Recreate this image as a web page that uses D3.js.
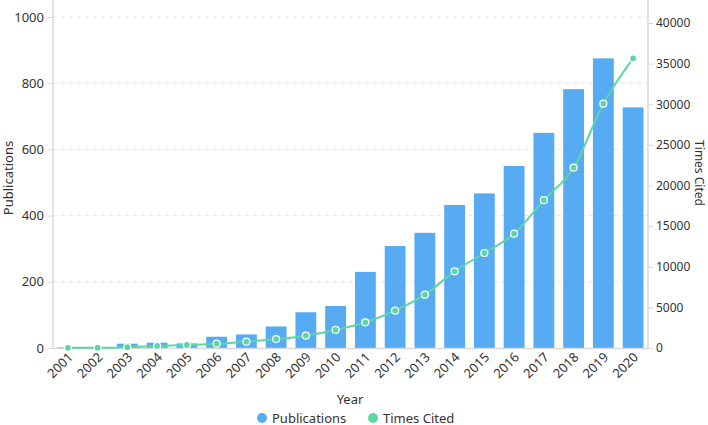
<!DOCTYPE html>
<html>
<head>
<meta charset="utf-8">
<script src="https://cdn.jsdelivr.net/npm/d3@7"></script>
<style>
  body { margin: 0; background: #fff; }
  svg text { font-family: "Noto Sans", "Open Sans", sans-serif; fill: #333; }
</style>
</head>
<body>
<svg id="chart" width="708" height="425"></svg>
<script>
var years = ['2001','2002','2003','2004','2005','2006','2007','2008','2009','2010',
	'2011','2012','2013','2014','2015','2016','2017','2018','2019','2020'];
var publications = [2, 0, 13, 16, 14, 34, 41, 65, 108, 127, 230, 308, 348, 432, 467, 550, 650, 782, 875, 727];
var timesCited = [20, 30, 100, 250, 370, 530, 780, 1100, 1520, 2220, 3160, 4590, 6560, 9440, 11690, 14070, 18200, 22190, 30070, 35650];
var leftTicks = [0, 200, 400, 600, 800, 1000];
var rightTicks = [0, 5000, 10000, 15000, 20000, 25000, 30000, 35000, 40000];

var barColor = '#56abf2';
var lineColor = '#5dd6a4';

var svg = d3.select('#chart');
var left = 53, right = 648, bottom = 348;

var x = d3.scaleBand().domain(years).range([left, right]).paddingInner(0.3).paddingOuter(0.15);
var yL = d3.scaleLinear().domain([0, 1000]).range([bottom, 17]);
var yR = d3.scaleLinear().domain([0, 40000]).range([bottom, 23]);

// grid
svg.append('g')
	.selectAll('line')
	.data(leftTicks.slice(1))
	.enter().append('line')
	.attr('x1', left).attr('x2', right)
	.attr('y1', function (d) { return yL(d); })
	.attr('y2', function (d) { return yL(d); })
	.attr('stroke', '#e3e3e3')
	.attr('stroke-dasharray', '4,4');

// bars
svg.append('g')
	.selectAll('rect')
	.data(publications)
	.enter().append('rect')
	.attr('x', function (d, i) { return x(years[i]); })
	.attr('y', function (d) { return yL(d); })
	.attr('width', x.bandwidth())
	.attr('height', function (d) { return bottom - yL(d); })
	.attr('fill', barColor);

// axes
function styleAxis (g) {
	g.select('.domain').attr('stroke', '#d9d9d9').attr('stroke-width', 1.5);
	g.selectAll('.tick line').attr('stroke', '#d9d9d9');
	g.selectAll('.tick text').style('font-size', '13px').attr('fill', '#333');
}

svg.append('g')
	.attr('transform', 'translate(' + left + ',0)')
	.call(d3.axisLeft(yL).tickValues(leftTicks).tickFormat(d3.format('d')).tickSize(5).tickSizeOuter(0).tickPadding(4))
	.call(styleAxis)
	.call(function (g) { g.select('.domain').attr('d', 'M0,0V' + bottom); });

svg.append('g')
	.attr('transform', 'translate(' + right + ',0)')
	.call(d3.axisRight(yR).tickValues(rightTicks).tickFormat(d3.format('d')).tickSize(5).tickSizeOuter(0).tickPadding(3))
	.call(styleAxis)
	.call(function (g) {
		g.select('.domain').attr('d', 'M0,0V' + bottom);
		g.selectAll('.tick text').style('font-size', '12px');
	});

var xAxis = svg.append('g')
	.attr('transform', 'translate(0,' + bottom + ')')
	.call(d3.axisBottom(x).tickSize(0).tickSizeOuter(0).tickPadding(0))
	.call(styleAxis);
xAxis.selectAll('.tick text')
	.attr('text-anchor', 'end')
	.attr('dy', null)
	.attr('y', 0)
	.attr('transform', 'translate(6,10) rotate(-45)');

// line
var line = d3.line()
	.x(function (d, i) { return x(years[i]) + x.bandwidth() / 2; })
	.y(function (d) { return yR(d); })
	.curve(d3.curveMonotoneX);

svg.append('path')
	.datum(timesCited)
	.attr('d', line)
	.attr('fill', 'none')
	.attr('stroke', lineColor)
	.attr('stroke-width', 2);

svg.append('g')
	.selectAll('circle')
	.data(timesCited)
	.enter().append('circle')
	.attr('cx', function (d, i) { return x(years[i]) + x.bandwidth() / 2; })
	.attr('cy', function (d) { return yR(d); })
	.attr('r', 3.5)
	.attr('fill', lineColor)
	.attr('stroke', '#fff')
	.attr('stroke-width', 1.2);

// axis titles
svg.append('text')
	.attr('transform', 'translate(13,178) rotate(-90)')
	.attr('text-anchor', 'middle')
	.style('font-size', '13px')
	.text('Publications');

svg.append('text')
	.attr('transform', 'translate(695,173) rotate(90)')
	.attr('text-anchor', 'middle')
	.style('font-size', '12px')
	.text('Times Cited');

svg.append('text')
	.attr('x', 350).attr('y', 404)
	.attr('text-anchor', 'middle')
	.style('font-size', '13px')
	.text('Year');

// legend
var legendItems = [
	{ name: 'Publications', color: barColor, x: 262 },
	{ name: 'Times Cited', color: lineColor, x: 373 }
];
var legend = svg.append('g').selectAll('g')
	.data(legendItems)
	.enter().append('g')
	.attr('transform', function (d) { return 'translate(' + d.x + ',418)'; });
legend.append('circle').attr('r', 5).attr('fill', function (d) { return d.color; });
legend.append('text')
	.attr('x', 10).attr('y', 4.5)
	.style('font-size', '13px')
	.text(function (d) { return d.name; });
</script>
</body>
</html>
